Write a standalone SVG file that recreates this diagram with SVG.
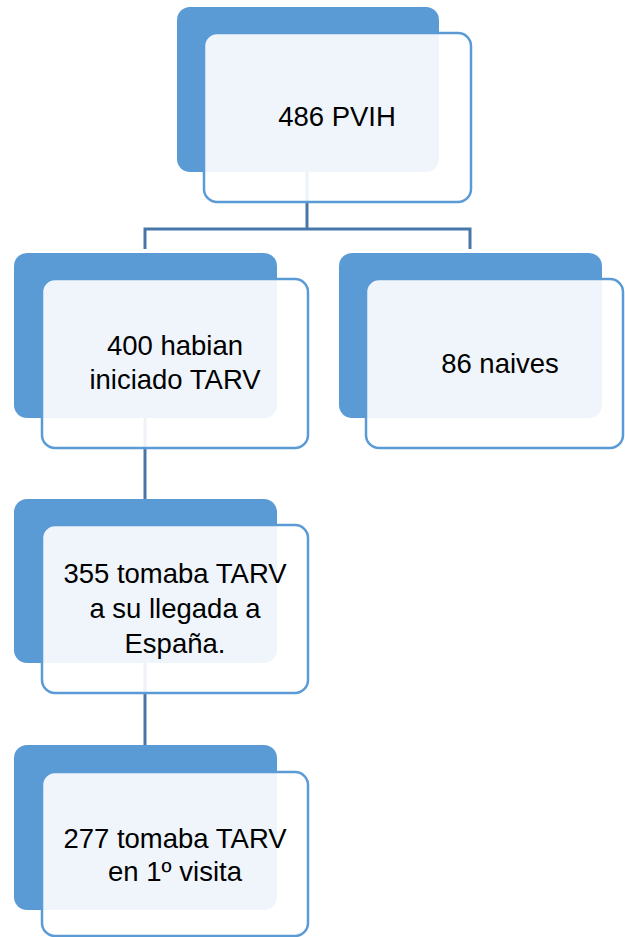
<svg xmlns="http://www.w3.org/2000/svg" width="625" height="937" viewBox="0 0 625 937">
<style>
.back{fill:#5b9bd5;}
.front{fill:#ffffff;fill-opacity:0.9;stroke:#5b9bd5;stroke-width:2.5;}
.conn{fill:none;stroke:#4677a8;stroke-width:3;}
.t{font-family:"Liberation Sans",Arial,sans-serif;font-size:27.5px;fill:#000;text-anchor:middle;}
</style>
<rect width="625" height="937" fill="#ffffff"/>
<g id="connectors">
<path class="conn" d="M307,172 V229 M145,249 V229 H470 V249"/>
<path class="conn" d="M145,418 V499"/>
<path class="conn" d="M145,663 V745"/>
</g>
<g id="n1">
<rect class="back" x="177" y="7" width="262" height="165" rx="13"/>
<rect class="front" x="204" y="33" width="267" height="169" rx="13"/>
<text class="t" x="337" y="126">486 PVIH</text>
</g>
<g id="n2">
<rect class="back" x="14" y="253" width="263" height="165" rx="13"/>
<rect class="front" x="42" y="279" width="266" height="169" rx="13"/>
<text class="t" x="175" y="355">400 habian</text>
<text class="t" x="175" y="389">iniciado TARV</text>
</g>
<g id="n3">
<rect class="back" x="339" y="253" width="263" height="165" rx="13"/>
<rect class="front" x="366" y="279" width="257" height="169" rx="13"/>
<text class="t" x="500" y="373">86 naives</text>
</g>
<g id="n4">
<rect class="back" x="14" y="499" width="263" height="164" rx="13"/>
<rect class="front" x="42" y="525" width="266" height="168" rx="13"/>
<text class="t" x="175" y="583">355 tomaba TARV</text>
<text class="t" x="175" y="618">a su llegada a</text>
<text class="t" x="175" y="653">España.</text>
</g>
<g id="n5">
<rect class="back" x="14" y="745" width="263" height="165" rx="13"/>
<rect class="front" x="42" y="772" width="266" height="164" rx="13"/>
<text class="t" x="175" y="848">277 tomaba TARV</text>
<text class="t" x="175" y="881">en 1º visita</text>
</g>
</svg>
